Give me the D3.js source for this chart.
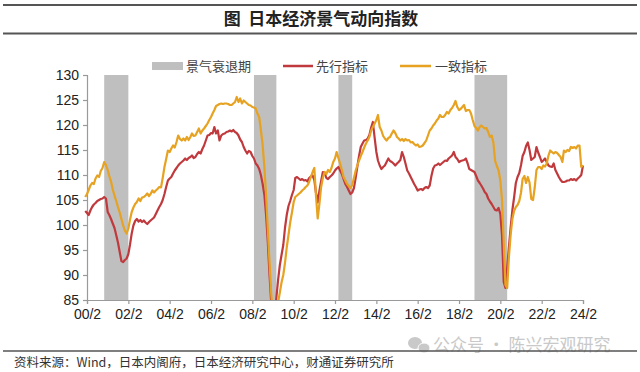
<!DOCTYPE html>
<html>
<head>
<meta charset="utf-8">
<script src="https://cdn.jsdelivr.net/npm/d3@7"></script>
<style>
  body { margin: 0; background: #fff; }
  svg { display: block; }
  .title { white-space: pre; }
</style>
</head>
<body>
<script>
// 日本景气动向指数 (月度, 2000/1 - 2024/2)
let startYear = 2000;

let leading = [
    102.8, 102.4, 102.0, 102.9, 103.6, 104.1, 104.4, 104.8, 105.0, 105.2, 105.3, 105.6, // 2000
    105.3, 102.6, 102.0, 101.2, 100.3, 99.4, 98.0, 96.5, 94.6, 92.8, 92.6, 93.0,        // 2001
    93.3, 94.2, 96.0, 98.3, 99.9, 100.8, 101.2, 100.7, 101.0, 100.6, 100.9, 100.5,      // 2002
    100.2, 100.6, 100.9, 101.2, 101.5, 102.2, 102.9, 103.6, 104.2, 105.0, 106.2, 107.6, // 2003
    108.9, 109.3, 109.6, 110.3, 110.9, 111.4, 111.9, 112.3, 112.6, 112.9, 113.3, 113.0, // 2004
    113.4, 113.6, 113.9, 113.4, 113.6, 114.2, 114.6, 114.3, 115.2, 115.9, 116.9, 117.9, // 2005
    118.0, 118.4, 118.3, 119.6, 118.3, 118.9, 116.9, 117.9, 118.2, 118.3, 118.6, 118.7, // 2006
    118.9, 118.7, 119.0, 118.6, 118.4, 117.9, 117.1, 116.6, 115.6, 114.9, 114.3, 114.8, // 2007
    114.6, 113.8, 113.3, 112.3, 111.9, 111.2, 110.0, 108.2, 106.0, 102.0, 96.5, 90.0,   // 2008
    84.3, 81.0, 82.0, 85.5, 89.0, 92.0, 94.0, 96.0, 99.5, 102.0, 103.8, 104.8,          // 2009
    106.0, 107.0, 109.4, 109.6, 109.3, 109.0, 109.2, 108.9, 109.0, 108.7, 109.4, 109.7, // 2010
    109.9, 109.0, 106.5, 104.5, 106.8, 108.8, 110.6, 110.5, 109.4, 109.2, 109.6, 109.9, // 2011
    110.3, 110.9, 111.3, 111.6, 110.9, 110.2, 109.2, 108.2, 107.6, 106.9, 106.2, 106.5, // 2012
    107.4, 109.5, 111.6, 113.8, 115.6, 116.3, 116.9, 117.0, 117.3, 118.0, 119.5, 120.6, // 2013
    117.5, 114.6, 112.9, 111.9, 111.2, 111.6, 111.9, 112.6, 113.3, 112.8, 112.6, 112.3, // 2014
    111.9, 112.3, 112.6, 113.0, 114.6, 113.6, 112.3, 110.9, 110.3, 109.6, 108.9, 108.2, // 2015
    107.6, 106.9, 107.1, 107.2, 107.0, 107.4, 107.6, 107.4, 107.9, 109.8, 111.3, 111.9, // 2016
    112.0, 112.3, 112.0, 112.3, 112.6, 112.9, 112.8, 113.3, 113.6, 113.9, 114.6, 113.6, // 2017
    113.2, 112.6, 112.8, 112.9, 113.0, 113.3, 112.4, 111.2, 111.0, 110.8, 110.6, 109.8, // 2018
    108.9, 108.4, 107.9, 107.3, 106.6, 106.2, 105.3, 104.7, 104.2, 103.6, 103.0, 102.9, // 2019
    103.4, 102.2, 98.0, 88.6, 87.4, 91.5, 95.5, 99.5, 103.0, 105.5, 108.4, 109.6,       // 2020
    110.4, 112.0, 113.8, 114.6, 115.8, 116.5, 115.0, 113.0, 113.3, 113.6, 115.6, 114.5, // 2021
    113.6, 112.6, 112.9, 113.3, 112.6, 111.9, 111.7, 111.6, 112.3, 111.0, 110.3, 109.6, // 2022
    109.0, 108.6, 108.6, 108.7, 108.9, 108.9, 109.2, 109.0, 109.2, 108.9, 109.3, 109.6, // 2023
    110.0, 111.9                                                                        // 2024
];

let coincident = [
    105.6, 106.2, 107.0, 107.9, 108.4, 108.2, 109.3, 109.9, 109.6, 110.8, 111.4, 112.6, // 2000
    112.0, 111.0, 109.8, 108.7, 107.1, 105.9, 104.8, 103.6, 102.5, 101.2, 99.9, 98.9,   // 2001
    98.3, 99.3, 101.0, 102.6, 103.5, 104.2, 104.6, 105.3, 104.8, 105.5, 105.6, 105.9,   // 2002
    106.3, 105.8, 106.2, 106.9, 106.5, 106.9, 107.2, 107.6, 107.5, 109.4, 111.6, 113.2, // 2003
    114.9, 114.6, 115.3, 115.9, 115.5, 116.6, 117.9, 117.2, 116.9, 117.3, 116.9, 117.6, // 2004
    117.0, 117.6, 118.3, 117.8, 117.9, 118.6, 119.3, 118.3, 118.9, 119.3, 119.8, 120.3, // 2005
    121.0, 121.6, 122.3, 123.0, 123.8, 124.0, 124.2, 124.3, 124.2, 124.3, 124.3, 124.2, // 2006
    124.0, 124.0, 124.3, 124.6, 125.6, 124.6, 125.3, 124.3, 124.9, 124.6, 124.3, 124.0, // 2007
    123.9, 123.6, 123.5, 123.3, 122.3, 121.6, 119.0, 116.0, 111.5, 106.0, 99.0, 92.5,   // 2008
    86.0, 82.0, 79.5, 81.0, 84.5, 86.5, 88.5, 90.0, 92.5, 95.5, 98.0, 100.5,            // 2009
    102.5, 104.6, 105.6, 105.9, 106.2, 106.5, 106.9, 107.2, 107.6, 107.9, 108.6, 109.6, // 2010
    110.6, 111.4, 106.0, 101.3, 104.2, 107.6, 109.4, 110.6, 110.2, 111.0, 110.6, 111.4, // 2011
    112.6, 113.3, 114.6, 113.4, 112.3, 111.0, 109.6, 108.9, 108.2, 107.8, 107.4, 108.0, // 2012
    109.4, 110.9, 111.9, 112.9, 113.8, 114.6, 115.5, 116.3, 116.9, 117.6, 118.9, 119.6, // 2013
    120.3, 121.0, 122.0, 119.6, 118.9, 117.8, 117.3, 116.9, 117.4, 117.6, 118.3, 118.9, // 2014
    118.4, 117.6, 117.3, 116.9, 117.2, 116.8, 117.2, 116.9, 117.0, 116.5, 116.6, 116.2, // 2015
    115.9, 116.1, 115.6, 115.7, 115.9, 116.4, 116.9, 117.9, 118.9, 119.3, 119.9, 120.3, // 2016
    120.9, 121.3, 122.0, 121.6, 121.6, 122.0, 122.6, 122.3, 123.0, 123.4, 124.0, 124.8, // 2017
    123.6, 123.0, 123.2, 123.6, 124.0, 122.8, 123.0, 123.0, 122.3, 121.0, 119.8, 119.4, // 2018
    118.9, 119.6, 119.9, 119.6, 119.3, 119.4, 118.6, 117.6, 117.9, 116.5, 112.8, 111.8, // 2019
    110.9, 108.9, 105.0, 96.5, 88.0, 87.4, 93.5, 98.0, 101.2, 102.8, 103.6, 104.0,      // 2020
    104.8, 106.5, 109.2, 109.8, 108.4, 109.6, 108.5, 105.2, 105.0, 107.5, 111.0, 111.6, // 2021
    111.6, 111.2, 111.9, 111.7, 112.3, 113.9, 114.9, 114.6, 114.3, 114.6, 114.4, 114.0, // 2022
    113.6, 112.6, 114.9, 114.6, 115.0, 114.8, 115.6, 115.4, 115.6, 115.3, 115.9, 115.9, // 2023
    111.6, 111.9                                                                        // 2024
];

// 景气衰退期: first and last month
let recessions = [
    ["2000-12", "2002-01"],
    ["2008-03", "2009-03"],
    ["2012-04", "2012-11"],
    ["2018-11", "2020-05"]
];

let xTickLabels = ["00/2", "02/2", "04/2", "06/2", "08/2", "10/2", "12/2",
                   "14/2", "16/2", "18/2", "20/2", "22/2", "24/2"];
let yTicks = [85, 90, 95, 100, 105, 110, 115, 120, 125, 130];

let seriesNames = ["先行指标", "一致指标"];
let colors = { band: "#bfbfbf", leading: "#c0393d", coincident: "#e6a220" };

run();

function monthDate(i) {
    return new Date(startYear, i, 1);
}

function parseMonth(s) {
    let p = s.split("-");
    return new Date(+p[0], +p[1] - 1, 1);
}

function tickDate(label) {
    let p = label.split("/");
    return new Date(2000 + +p[0], +p[1] - 1, 1);
}

function run() {
    let width = 640, height = 372;
    let margin = { left: 87, right: 57, top: 75, bottom: 72 };

    let svg = d3.select("body")
        .append("svg")
        .attr("width", width)
        .attr("height", height);

    let x = d3.scaleTime()
        .domain([tickDate(xTickLabels[0]), tickDate(xTickLabels[xTickLabels.length - 1])])
        .range([margin.left, width - margin.right]);

    let y = d3.scaleLinear()
        .domain([d3.min(yTicks), d3.max(yTicks)])
        .range([height - margin.bottom, margin.top]);

    // title block
    svg.append("line").attr("x1", 3).attr("x2", 637).attr("y1", 5).attr("y2", 5)
        .attr("stroke", "#555").attr("stroke-width", 2);
    svg.append("line").attr("x1", 3).attr("x2", 637).attr("y1", 33.5).attr("y2", 33.5)
        .attr("stroke", "#555").attr("stroke-width", 2);
    svg.append("text")
        .attr("class", "title")
        .attr("x", 321).attr("y", 25)
        .attr("text-anchor", "middle")
        .attr("font-family", "'Noto Sans CJK SC', sans-serif")
        .attr("font-weight", "bold")
        .attr("font-size", "17px")
        .attr("fill", "#222")
        .text("图  日本经济景气动向指数");

    // recession bands
    svg.append("g")
        .selectAll("rect")
        .data(recessions)
        .enter()
        .append("rect")
        .attr("x", d => x(parseMonth(d[0])))
        .attr("width", d => {
            let end = parseMonth(d[1]);
            end.setMonth(end.getMonth() + 1);
            return x(end) - x(parseMonth(d[0]));
        })
        .attr("y", y(d3.max(yTicks)))
        .attr("height", y(d3.min(yTicks)) - y(d3.max(yTicks)))
        .attr("fill", colors.band);

    // axes
    let yAxis = svg.append("g")
        .attr("transform", "translate(" + margin.left + ",0)")
        .call(d3.axisLeft(y).tickValues(yTicks).tickSize(4).tickPadding(4).tickFormat(d3.format("d")));

    let xAxis = svg.append("g")
        .attr("transform", "translate(0," + y(d3.min(yTicks)) + ")")
        .call(d3.axisBottom(x)
            .tickValues(xTickLabels.map(tickDate))
            .tickSize(4).tickPadding(5)
            .tickFormat((d, i) => xTickLabels[i]));

    [yAxis, xAxis].forEach(g => {
        g.select(".domain").attr("stroke", "#9a9a9a").attr("stroke-width", 1.2);
        g.selectAll(".tick line").attr("stroke", "#9a9a9a").attr("stroke-width", 1.2);
        g.selectAll("text")
            .attr("font-family", "'Liberation Sans', Arial, sans-serif")
            .attr("font-size", "14px")
            .attr("fill", "#222");
    });

    // lines, clipped to the plot area
    svg.append("clipPath").attr("id", "plot")
        .append("rect")
        .attr("x", 0).attr("y", y(d3.max(yTicks)))
        .attr("width", width)
        .attr("height", y(d3.min(yTicks)) - y(d3.max(yTicks)));

    let line = d3.line()
        .x((d, i) => x(monthDate(i)))
        .y(d => y(d));

    let lines = svg.append("g").attr("clip-path", "url(#plot)");
    lines.append("path")
        .datum(leading)
        .attr("d", line)
        .attr("fill", "none")
        .attr("stroke", colors.leading)
        .attr("stroke-width", 2.2)
        .attr("stroke-linejoin", "round");
    lines.append("path")
        .datum(coincident)
        .attr("d", line)
        .attr("fill", "none")
        .attr("stroke", colors.coincident)
        .attr("stroke-width", 2.2)
        .attr("stroke-linejoin", "round");

    // legend
    let legend = svg.append("g")
        .attr("font-family", "'Noto Sans CJK SC', sans-serif")
        .attr("font-size", "13px")
        .attr("fill", "#444");
    legend.append("rect")
        .attr("x", 152).attr("y", 62).attr("width", 31).attr("height", 8)
        .attr("fill", colors.band);
    legend.append("text").attr("x", 186).attr("y", 70.5).text("景气衰退期");
    legend.append("line")
        .attr("x1", 283).attr("x2", 313).attr("y1", 66).attr("y2", 66)
        .attr("stroke", colors.leading).attr("stroke-width", 2.5);
    legend.append("text").attr("x", 316).attr("y", 70.5).text(seriesNames[0]);
    legend.append("line")
        .attr("x1", 400).attr("x2", 431).attr("y1", 66).attr("y2", 66)
        .attr("stroke", colors.coincident).attr("stroke-width", 2.5);
    legend.append("text").attr("x", 435).attr("y", 70.5).text(seriesNames[1]);

    // watermark
    let wm = svg.append("g").attr("fill", "#c9c9c9");
    wm.append("ellipse").attr("cx", 415).attr("cy", 343).attr("rx", 7).attr("ry", 6);
    wm.append("ellipse").attr("cx", 424).attr("cy", 348).attr("rx", 6).attr("ry", 5)
        .attr("stroke", "#fff").attr("stroke-width", 1);
    wm.append("text")
        .attr("x", 433).attr("y", 351)
        .attr("font-family", "'Noto Sans CJK SC', sans-serif")
        .attr("font-size", "17px")
        .text("公众号 · 陈兴宏观研究");

    // source
    svg.append("line").attr("x1", 3).attr("x2", 637).attr("y1", 351).attr("y2", 351)
        .attr("stroke", "#555").attr("stroke-width", 1.5);
    svg.append("text")
        .attr("x", 14).attr("y", 367)
        .attr("font-family", "'Noto Sans CJK SC', sans-serif")
        .attr("font-size", "12.5px")
        .attr("fill", "#333")
        .text("资料来源：Wind，日本内阁府，日本经济研究中心，财通证券研究所");
}
</script>
</body>
</html>
